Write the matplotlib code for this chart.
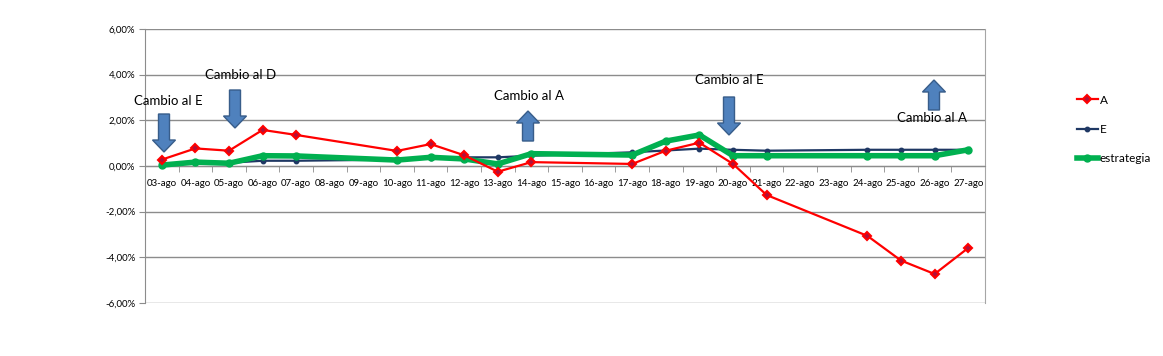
import matplotlib
matplotlib.use("Agg")
import matplotlib.pyplot as plt
from matplotlib.patches import Polygon
from matplotlib.transforms import IdentityTransform
from matplotlib.ticker import FuncFormatter, FixedLocator

plt.rcParams['font.family'] = ['Lato', 'DejaVu Sans']

# ---- data ----
tick_days = list(range(3, 28))
tick_labels = [f"{d:02d}-ago" for d in tick_days]
days = [3, 4, 5, 6, 7, 10, 11, 12, 13, 14, 17, 18, 19, 20, 21, 24, 25, 26, 27]
serie_A = [0.28, 0.77, 0.67, 1.58, 1.36, 0.66, 0.96, 0.47, -0.25, 0.17, 0.09, 0.67, 1.02, 0.09,
           -1.27, -3.06, -4.14, -4.73, -3.59]
serie_E = [0.05, 0.19, 0.14, 0.23, 0.23, 0.28, 0.35, 0.38, 0.38, 0.45, 0.60, 0.68, 0.76, 0.71,
           0.67, 0.71, 0.71, 0.71, 0.71]
serie_estr = [0.04, 0.17, 0.12, 0.45, 0.44, 0.26, 0.38, 0.31, 0.09, 0.54, 0.48, 1.09, 1.36, 0.45,
              0.45, 0.45, 0.45, 0.45, 0.71]
annotations = ["Cambio al E", "Cambio al D", "Cambio al A", "Cambio al E", "Cambio al A"]

W, H = 1163, 356
fig = plt.figure(figsize=(W / 100, H / 100), dpi=100)
ax = fig.add_axes([145 / W, 1 - 303 / H, 840 / W, 274 / H])

ax.plot(days, serie_E, color='#1F3864', lw=1.6, marker='o', ms=3.2, label='E', zorder=3)
ax.plot(days, serie_estr, color='#00B050', lw=4, marker='o', ms=5, label='estrategia', zorder=4)
ax.plot(days, serie_A, color='#FF0000', lw=1.6, marker='D', ms=4.5, mfc='#B0103A',
        mec='#FF0000', mew=1.5, label='A', zorder=5)

ax.set_xlim(2.5, 27.5)
ax.set_ylim(-6, 6)
ax.set_yticks([-6, -4, -2, 0, 2, 4, 6])
ax.yaxis.set_major_formatter(FuncFormatter(lambda v, p: f"{v:.2f}%".replace('.', ',')))
ax.grid(axis='y', color='#8C8C8C', lw=1)
ax.set_axisbelow(True)

ax.set_xticks(tick_days)
ax.set_xticklabels(tick_labels)
ax.xaxis.set_minor_locator(FixedLocator([d + 0.5 for d in range(2, 28)]))
ax.tick_params(axis='x', which='major', length=0, pad=9, labelsize=7.0)
ax.tick_params(axis='x', which='minor', length=4, color='#8C8C8C', direction='out')
ax.tick_params(axis='y', length=4, color='#8C8C8C', labelsize=7.0, pad=3)

ax.spines['bottom'].set_position(('data', 0))
ax.spines['bottom'].set_color('#8C8C8C')
ax.spines['left'].set_color('#8C8C8C')
ax.spines['top'].set_visible(False)
ax.spines['right'].set_color('#A6A6A6')

# legend
h, l = ax.get_legend_handles_labels()
order = [2, 0, 1]
fig.legend([h[i] for i in order], [l[i] for i in order], loc='upper left',
           bbox_to_anchor=(1066 / W, 1 - 84 / H), frameon=False, fontsize=8.5,
           labelspacing=1.55, handlelength=1.8, handletextpad=0.15)

# block arrows in pixel coordinates (y from top)
def block_arrow(xc, y_tail, y_head):
    sw, hw, hl = 5.5, 11.5, 12
    s = 1 if y_head > y_tail else -1
    yb = y_head - s * hl
    pts = [(xc - sw, y_tail), (xc + sw, y_tail), (xc + sw, yb), (xc + hw, yb),
           (xc, y_head), (xc - hw, yb), (xc - sw, yb)]
    pts = [(x, H - y) for x, y in pts]
    fig.patches.append(Polygon(pts, closed=True, transform=IdentityTransform(),
                               facecolor='#4F81BD', edgecolor='#385D8A', lw=1, figure=fig))

block_arrow(164, 114, 152)
block_arrow(235, 90, 128)
block_arrow(528, 141, 111)
block_arrow(729, 97, 135)
block_arrow(934, 110, 80)

txt_pos = [(168, 101), (241, 75), (529, 96), (729, 80), (932, 118)]
for t, (x, y) in zip(annotations, txt_pos):
    fig.text(x / W, 1 - y / H, t, ha='center', va='center', fontsize=9.5, color='black')

fig.savefig("out.png", dpi=100)
